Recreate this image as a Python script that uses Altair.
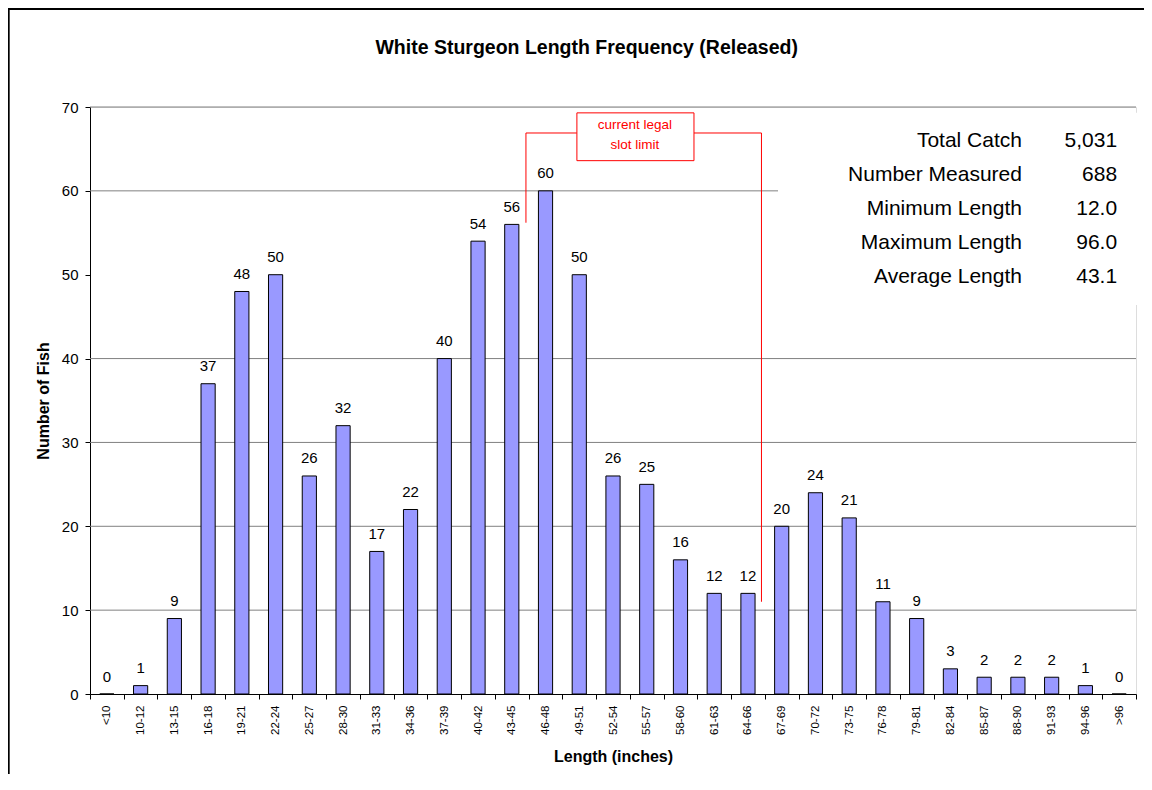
import altair as alt
import pandas as pd

# ---------------- data ----------------
categories = ["<10", "10-12", "13-15", "16-18", "19-21", "22-24", "25-27", "28-30",
              "31-33", "34-36", "37-39", "40-42", "43-45", "46-48", "49-51", "52-54",
              "55-57", "58-60", "61-63", "64-66", "67-69", "70-72", "73-75", "76-78",
              "79-81", "82-84", "85-87", "88-90", "91-93", "94-96", ">96"]
counts = [0, 1, 9, 37, 48, 50, 26, 32, 17, 22, 40, 54, 56, 60, 50, 26,
          25, 16, 12, 12, 20, 24, 21, 11, 9, 3, 2, 2, 2, 1, 0]
y_ticks = [0, 10, 20, 30, 40, 50, 60, 70]
grid_values = [10, 20, 30, 40, 60, 70]
stat_labels = ["Total Catch", "Number Measured", "Minimum Length",
               "Maximum Length", "Average Length"]
stat_values = ["5,031", "688", "12.0", "96.0", "43.1"]
slot_text = ["current legal", "slot limit"]
chart_title = "White Sturgeon Length Frequency (Released)"
x_title = "Length (inches)"
y_title = "Number of Fish"

# ---------------- layout ----------------
FONT = "Liberation Sans"
W, H = 1046, 587
N = len(categories)

yscale = alt.Scale(domain=[0, 70], nice=False, zero=True)
xband = alt.Scale(domain=categories, paddingInner=0, paddingOuter=0)
xlin = alt.Scale(domain=[0, N], nice=False, zero=False)

yax = alt.Axis(values=y_ticks, grid=False, tickSize=5, tickColor="black",
               domainColor="black", labelColor="black", labelFontSize=15,
               labelPadding=7, labelFont=FONT, titleFont=FONT,
               titleFontSize=16, titleFontWeight="bold", titleColor="black",
               titlePadding=10)


def Y(field):
    return alt.Y(field, scale=yscale, axis=yax, title=y_title)


bars_df = pd.DataFrame({"cat": categories, "n": counts})
grid_df = pd.DataFrame({"v": grid_values})

# gridlines
grid = alt.Chart(grid_df).mark_rule(color="#808080", strokeWidth=1).encode(
    y=Y("v:Q")
)

# bars
bars = alt.Chart(bars_df).mark_bar(
    width=alt.RelativeBandSize(0.42), fill="#9999FF", stroke="black", strokeWidth=1
).encode(
    x=alt.X("cat:N", scale=xband, title=x_title,
            axis=alt.Axis(labelAngle=-90, tickBand="extent", tickSize=5,
                          tickColor="black", domainColor="black", labelColor="black",
                          labelFontSize=11.5, labelPadding=6, labelFont=FONT,
                          titleFont=FONT, titleFontSize=16, titleFontWeight="bold",
                          titleColor="black", titlePadding=14, grid=False,
                          labelOverlap=False)),
    y=Y("n:Q"),
)

labels = alt.Chart(bars_df).mark_text(
    baseline="alphabetic", dy=-12.5, fontSize=15, font=FONT, color="black"
).encode(
    x=alt.X("cat:N", scale=xband, axis=None),
    y=Y("n:Q"),
    text="n:Q",
)

# slot limit bracket (red)
path_df = pd.DataFrame({
    "seg": ["a", "a", "a", "b", "b", "b"],
    "ord": [0, 1, 2, 0, 1, 2],
    "x": [12.92, 12.92, 14.43, 17.63, 19.9, 19.9],
    "y": [56.2, 66.9, 66.9, 66.9, 66.9, 11.0],
})
bracket = alt.Chart(path_df).mark_line(color="#FF0000", strokeWidth=1).encode(
    x=alt.X("x:Q", scale=xlin, axis=None),
    y=Y("y:Q"),
    detail="seg:N",
    order="ord:Q",
)

box_df = pd.DataFrame({"x0": [14.43], "x1": [17.9], "y0": [63.6], "y1": [69.3]})
slot_box = alt.Chart(box_df).mark_rect(fill="white", stroke="#FF0000", strokeWidth=1).encode(
    x=alt.X("x0:Q", scale=xlin, axis=None), x2="x1:Q",
    y=Y("y0:Q"), y2="y1:Q",
)
slot_df = pd.DataFrame({"t": slot_text, "x": [16.15, 16.15], "y": [67.85, 65.45]})
slot_lbl = alt.Chart(slot_df).mark_text(
    color="#FF0000", fontSize=13.5, font=FONT, baseline="middle", align="center"
).encode(
    x=alt.X("x:Q", scale=xlin, axis=None),
    y=Y("y:Q"),
    text="t:N",
)

# statistics box
stat_bg_df = pd.DataFrame({"x0": [20.39], "x1": [31.6], "y0": [46.4], "y1": [69.3]})
stat_bg = alt.Chart(stat_bg_df).mark_rect(fill="white", strokeWidth=0).encode(
    x=alt.X("x0:Q", scale=xlin, axis=None), x2="x1:Q",
    y=Y("y0:Q"), y2="y1:Q",
)
rows_y = [65.9 - 4.05 * i for i in range(len(stat_labels))]
stat_df = pd.DataFrame({"lab": stat_labels, "val": stat_values, "y": rows_y,
                        "xl": [27.62] * len(stat_labels), "xv": [30.44] * len(stat_labels)})
stat_lab = alt.Chart(stat_df).mark_text(
    align="right", baseline="middle", fontSize=21, font=FONT, color="black"
).encode(
    x=alt.X("xl:Q", scale=xlin, axis=None),
    y=Y("y:Q"),
    text="lab:N",
)
stat_val = alt.Chart(stat_df).mark_text(
    align="right", baseline="middle", fontSize=21, font=FONT, color="black"
).encode(
    x=alt.X("xv:Q", scale=xlin, axis=None),
    y=Y("y:Q"),
    text="val:N",
)

# chart title (as a text mark inside the frame)
title_df = pd.DataFrame({"t": [chart_title], "x": [14.72], "y": [77.0]})
title = alt.Chart(title_df).mark_text(
    fontSize=19.5, fontWeight="bold", font=FONT, color="black",
    align="center", baseline="middle"
).encode(
    x=alt.X("x:Q", scale=xlin, axis=None),
    y=Y("y:Q"),
    text="t:N",
)

# outer chart frame
frame_df = pd.DataFrame({"x0": [-2.41], "x1": [33.0], "y0": [-20.0], "y1": [81.7]})
frame = alt.Chart(frame_df).mark_rect(filled=False, stroke="black", strokeWidth=2).encode(
    x=alt.X("x0:Q", scale=xlin, axis=None), x2="x1:Q",
    y=Y("y0:Q"), y2="y1:Q",
)

chart = alt.layer(
    grid, stat_bg, bars, labels, bracket, slot_box, slot_lbl, stat_lab, stat_val,
    title, frame
).resolve_scale(x="independent").properties(
    width=W, height=H,
    autosize=alt.AutoSizeParams(type="none"),
    padding={"left": 82, "top": 99, "right": 8, "bottom": 80},
).configure_view(stroke="#808080", strokeWidth=1).configure(background="white")

chart.save("out.html", embed_options={"renderer": "svg", "actions": False})
